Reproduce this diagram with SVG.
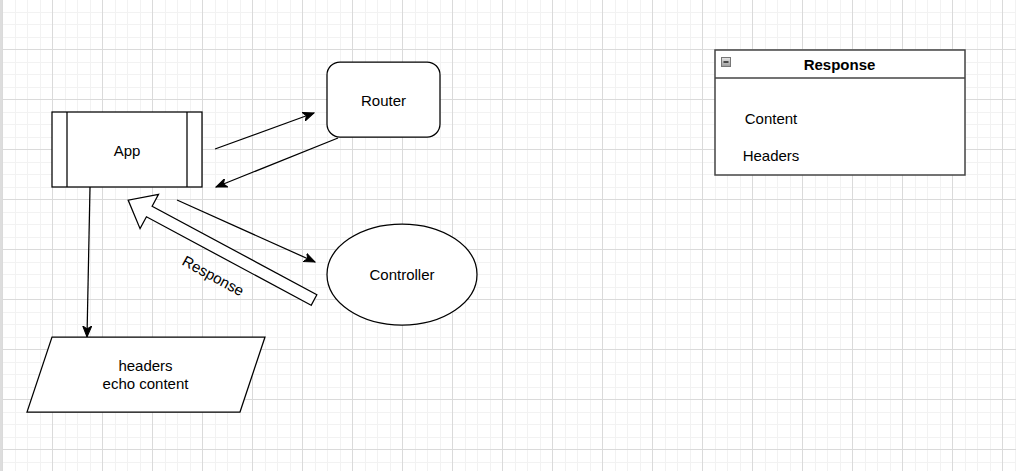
<svg xmlns="http://www.w3.org/2000/svg" width="1016" height="471" viewBox="0 0 1016 471">
  <defs>
    <pattern id="grid" patternUnits="userSpaceOnUse" x="2" y="-1" width="50" height="50">
      <path d="M13.5,0V50M25.5,0V50M38.5,0V50M0,13.5H50M0,25.5H50M0,38.5H50" stroke="#f2f2f2" stroke-width="1" fill="none"/>
      <path d="M0.5,0V50M0,0.5H50" stroke="#dadada" stroke-width="1" fill="none"/>
    </pattern>
    <marker id="arr" viewBox="0 0 12 10" refX="11" refY="5" markerWidth="12" markerHeight="10" markerUnits="userSpaceOnUse" orient="auto">
      <path d="M0,0.5 L11,5 L0,9.5 L3,5 Z" fill="#000" stroke="#000" stroke-width="1"/>
    </marker>
    <linearGradient id="btn" x1="0" y1="0" x2="0" y2="1">
      <stop offset="0" stop-color="#e8e8e8"/>
      <stop offset="1" stop-color="#9a9a9a"/>
    </linearGradient>
  </defs>
  <style>
    text { font-family: "Liberation Sans", Arial, sans-serif; font-size: 15px; fill: #000; }
    .c { text-anchor: middle; }
    .shape { fill: #fff; stroke: #000; stroke-width: 1.25; }
    .edge { fill: none; stroke: #000; stroke-width: 1.25; }
  </style>
  <rect width="1016" height="471" fill="#fff"/>
  <rect width="1016" height="471" fill="url(#grid)"/>
  <rect x="0" y="0" width="2" height="471" fill="#dddddd"/>

  <g id="connectors">
    <path class="edge" d="M215,149 L314,113" marker-end="url(#arr)"/>
    <path class="edge" d="M338,138 L216,187" marker-end="url(#arr)"/>
    <path class="edge" d="M177,200 L315,262" marker-end="url(#arr)"/>
    <path class="edge" d="M90,187 L87,337" marker-end="url(#arr)"/>
    <g id="response-flow">
      <polygon class="shape" transform="translate(314,300) rotate(208.26)" points="0,-6 187,-6 187,-19.5 211,0 187,19.5 187,6 0,6"/>
      <text class="c" transform="translate(213,276) rotate(28.5)" y="5">Response</text>
    </g>
  </g>

  <g id="app">
    <rect class="shape" x="52" y="112" width="150" height="75"/>
    <path class="edge" d="M67,112V187M187,112V187"/>
    <text class="c" x="127" y="155.5">App</text>
  </g>

  <g id="router">
    <rect class="shape" x="327" y="62" width="113" height="75" rx="13" ry="13"/>
    <text class="c" x="383.5" y="105.5">Router</text>
  </g>

  <g id="controller">
    <ellipse class="shape" cx="402" cy="274.5" rx="75" ry="50.5"/>
    <text class="c" x="402" y="280">Controller</text>
  </g>

  <g id="output">
    <polygon class="shape" points="52,337 265,337 240,412 27,412"/>
    <text class="c" x="145.5" y="371">headers</text>
    <text class="c" x="145.5" y="389">echo content</text>
  </g>

  <g id="response-table">
    <rect x="715" y="50" width="250" height="125" fill="#fff" stroke="#444" stroke-width="1.5"/>
    <path d="M715,78H965" stroke="#444" stroke-width="1.5"/>
    <rect x="721.5" y="57.5" width="9" height="9" fill="url(#btn)" stroke="#777" stroke-width="1"/>
    <path d="M723.5,62H728.5" stroke="#222" stroke-width="1.5"/>
    <text class="c" x="839.5" y="70" font-weight="bold">Response</text>
    <text class="c" x="771" y="124">Content</text>
    <text class="c" x="771" y="161">Headers</text>
  </g>
</svg>
